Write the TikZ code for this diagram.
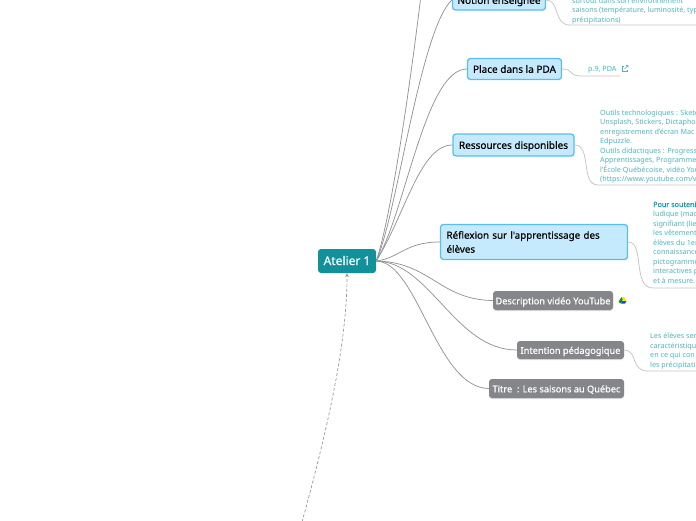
\documentclass[tikz,border=0pt]{standalone}
\usepackage{fontspec}
\setmainfont{Noto Sans}
\newfontfamily\medfont[FakeBold=0.4]{Noto Sans}
\usetikzlibrary{shadows}
\definecolor{rootteal}{HTML}{12919B}
\definecolor{blufill}{HTML}{C5EAFD}
\definecolor{bluline}{HTML}{5BBDEE}
\definecolor{grayfill}{HTML}{85868A}
\definecolor{smallteal}{HTML}{4DB5BC}
\definecolor{darkteal}{HTML}{1F9AA3}
\tikzset{
  rootbox/.style={fill=rootteal,rounded corners=3pt,text=white,minimum width=58pt,minimum height=24pt,inner sep=0pt,text height=8.5pt,text depth=.5pt,font=\medfont\fontsize{12}{14}\selectfont},
  blubox/.style={draw=bluline,line width=1.3pt,fill=blufill,rounded corners=3pt,inner sep=0pt,font=\medfont\fontsize{10}{14}\selectfont},
  graybox/.style={fill=grayfill,rounded corners=3pt,text=white,inner sep=0pt,drop shadow={shadow xshift=0pt,shadow yshift=-1pt,opacity=.25},text height=8.3pt,text depth=.7pt,font=\medfont\fontsize{9.2}{12}\selectfont},
  smalltxt/.style={anchor=north west,inner sep=0pt,align=left,text=smallteal,font=\fontsize{7.2}{9.5}\selectfont},
  mainline/.style={draw=black!42,line width=.75pt},
  subline/.style={draw=black!22,line width=.8pt}
}
\begin{document}
\begin{tikzpicture}[x=1pt,y=-1pt]
  \useasboundingbox (0,0) rectangle (696,520);

  \node[rootbox] (atelier) at (347,261) {Atelier 1};

  \node[blubox,minimum width=93pt,minimum height=20pt,text height=8.3pt,text depth=.7pt] (notion) at (499,0) {Notion enseignée};
  \node[blubox,minimum width=94pt,minimum height=21pt,text height=8.3pt,text depth=.7pt] (place) at (514.5,69) {Place dans la PDA};
  \node[blubox,minimum width=121pt,minimum height=22pt,text height=8.3pt,text depth=.7pt] (ressources) at (513.5,145) {Ressources disponibles};
  \node[blubox,minimum width=187pt,minimum height=35pt,align=left,text width=175pt,font=\medfont\fontsize{9.8}{14}\selectfont] (reflexion) at (534,242) {Réflexion sur l'apprentissage des\\élèves};
  \node[graybox,minimum width=120pt,minimum height=19pt] (description) at (553,300.5) {Description vidéo YouTube};
  \node[graybox,minimum width=107pt,minimum height=18pt] (intention) at (570.5,350) {Intention pédagogique};
  \node[graybox,minimum width=135pt,minimum height=19pt] (titre) at (556.5,388.5) {Titre \ : Les saisons au Québec};

  \node[smalltxt] (notiontxt) at (572,-2.5) {surtout dans son environnement\\saisons (température, luminosité, typ\\précipitations)};
  \node[smalltxt] (placetxt) at (588,66.5) {p.9, PDA};
  \node[smalltxt] (ressourcestxt) at (600,109.5) {Outils technologiques : Sketc\\Unsplash, Stickers, Dictaphon\\enregistrement d'écran Mac\\Edpuzzle.\\Outils didactiques : Progress\\Apprentissages, Programme\\l'École Québécoise, vidéo You\\(https://www.youtube.com/v};
  \node[smalltxt] (reflexiontxt) at (653,201.5) {{\medfont\color{darkteal}Pour souteni}\\ludique (mac\\signifiant (lie\\les vêtement\\élèves du 1er\\connaissance\\pictogramme\\interactives p\\et à mesure.};
  \node[smalltxt] (intentiontxt) at (650,333) {Les élèves ser\\caractéristiqu\\en ce qui con\\les précipitati};

  \coordinate (topa) at (421,-5);
  \coordinate (bottom) at (302,522);
  \coordinate (notionend) at (570,25);
  \coordinate (notionfin) at (700,25);
  \coordinate (placeend) at (581,76);
  \coordinate (placefin) at (620,76);
  \coordinate (ressourcesend) at (598,185);
  \coordinate (ressourcesfin) at (700,185);
  \coordinate (reflexionend) at (653,288);
  \coordinate (reflexionfin) at (700,288);
  \coordinate (intentionend) at (648,371);
  \coordinate (intentionfin) at (700,371);

  \draw[mainline] (atelier.east) .. controls (392,215) and (412,70) .. (topa);
  \draw[mainline] (atelier.east) .. controls (397,215) and (420,30) .. (notion.west);
  \draw[mainline] (atelier.east) .. controls (405,215) and (425,69) .. (place.west);
  \draw[mainline] (atelier.east) .. controls (405,215) and (420,145) .. (ressources.west);
  \draw[mainline] (atelier.east) .. controls (400,258) and (405,242) .. (reflexion.west);
  \draw[mainline] (atelier.east) .. controls (430,262) and (440,300) .. (description.west);
  \draw[mainline] (atelier.east) .. controls (430,262) and (455,350) .. (intention.west);
  \draw[mainline] (atelier.east) .. controls (418,262) and (436,388) .. (titre.west);

  \draw[subline] (notion.east) .. controls (560,0) and (553,25) .. (notionend) -- (notionfin);
  \draw[subline] (place.east) .. controls (574,69) and (568,76) .. (placeend) -- (placefin);
  \draw[subline] (ressources.east) .. controls (592,145) and (580,185) .. (ressourcesend) -- (ressourcesfin);
  \draw[subline] (reflexion.east) .. controls (645,242) and (632,288) .. (reflexionend) -- (reflexionfin);
  \draw[subline] (intention.east) .. controls (638,350) and (630,371) .. (intentionend) -- (intentionfin);

  \draw[densely dashed,draw=black!40,line width=.7pt,->,>=stealth] (bottom) .. controls (330,420) and (347,340) .. (atelier.south);

  \draw[smallteal,line width=.6pt] (624,66) -- (622,66) -- (622,71.5) -- (627.5,71.5) -- (627.5,69.5);
  \draw[smallteal,line width=.6pt] (624.5,69) -- (628,65.5) (625.8,65.5) -- (628,65.5) -- (628,67.7);

  \fill[green!60!black] (618.5,302) -- (621.5,297) -- (622.8,299.5) -- (621,303.5) -- cycle;
  \fill[blue!70!cyan] (621,303.5) -- (622.3,301) -- (626.5,301) -- (625,303.5) -- cycle;
  \fill[yellow!85!orange] (621.5,297) -- (624,297) -- (626.5,301) -- (624,301) -- cycle;
\end{tikzpicture}
\end{document}
